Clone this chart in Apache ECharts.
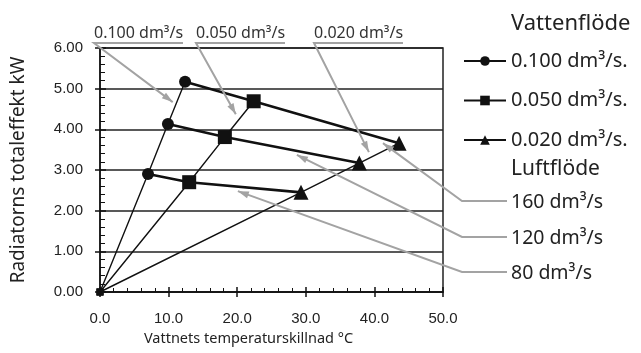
<!DOCTYPE html>
<html>
<head>
<meta charset="utf-8">
<script src="https://cdn.jsdelivr.net/npm/echarts@6/dist/echarts.min.js"></script>
<style>
  html, body { margin: 0; padding: 0; background: #fff; }
  #chart { width: 641px; height: 353px; }
</style>
</head>
<body>
<div id="chart"></div>
<script>
// water flow curves: temperature difference (x) and radiator power kW (y)
var flowNames = ['0.100 dm³/s.', '0.050 dm³/s.', '0.020 dm³/s.'];
var dT100 = [0, 7.0, 9.9, 12.4];
var kW100 = [0, 2.90, 4.13, 5.17];
var dT050 = [0, 13.0, 18.2, 22.4];
var kW050 = [0, 2.70, 3.81, 4.69];
var dT020 = [0, 29.3, 37.8, 43.6];
var kW020 = [0, 2.45, 3.17, 3.66];
var flowSymbols = ['circle', 'rect', 'triangle'];
var flowSymbolSizes = [12, 14, 15];

// air flow labels, index into the points above (1 = 80, 2 = 120, 3 = 160)
var airNames = ['80 dm³/s', '120 dm³/s', '160 dm³/s'];
var airIndex = [1, 2, 3];

var fontText = '"Noto Sans", sans-serif';
var fontNum = '"Liberation Sans", Arial, sans-serif';
var grey = '#a3a3a3';

function pts(xs, ys) {
    var list = [];
    for (var i = 0; i < xs.length; i++) {
        list.push([xs[i], ys[i]]);
    }
    return list;
}

var flowData = [pts(dT100, kW100), pts(dT050, kW050), pts(dT020, kW020)];

var series = [];
for (var a = 0; a < airIndex.length; a++) {
    var k = airIndex[a];
    series.push({
        name: airNames[a],
        type: 'line',
        data: [flowData[0][k], flowData[1][k], flowData[2][k]],
        showSymbol: false,
        lineStyle: { color: '#111', width: 2.6 },
        z: 2,
        silent: true
    });
}
for (var f = 0; f < flowNames.length; f++) {
    var d = flowData[f].map(function (p, i) {
        if (i === 0) {
            return { value: p, symbol: 'rect', symbolSize: 7 };
        }
        return p;
    });
    series.push({
        name: flowNames[f],
        type: 'line',
        data: d,
        symbol: flowSymbols[f],
        symbolSize: flowSymbolSizes[f],
        showAllSymbol: true,
        itemStyle: { color: '#111' },
        lineStyle: { color: '#111', width: 1.4 },
        z: 3
    });
}

var chart = echarts.init(document.getElementById('chart'));
var option = {
    animation: false,
    grid: {
        left: 100, right: 198, top: 48, bottom: 61,
        show: true, borderColor: '#222', borderWidth: 1.5
    },
    legend: {
        data: flowNames,
        orient: 'vertical',
        left: 458,
        top: 46,
        itemWidth: 42,
        itemHeight: 12,
        itemGap: 19.5,
        textStyle: { fontFamily: fontText, fontSize: 20, color: '#222' }
    },
    xAxis: [{
        type: 'value',
        min: 0, max: 50, interval: 10,
        name: 'Vattnets temperaturskillnad °C',
        nameLocation: 'middle',
        nameGap: 39,
        nameTextStyle: { fontFamily: fontText, fontSize: 14.5, color: '#222', padding: [0, 46, 0, 0] },
        axisLine: { lineStyle: { color: '#111', width: 1.5 } },
        axisTick: { show: true, inside: true, length: 5, lineStyle: { color: '#111', width: 1.5 } },
        minorTick: { show: true, splitNumber: 5, length: 4, lineStyle: { color: '#111' } },
        splitLine: { show: false },
        axisLabel: {
            margin: 19,
            fontFamily: fontNum, fontSize: 15, color: '#222',
            formatter: function (v) { return v.toFixed(1); }
        }
    }, {
        // outer half of the major ticks
        type: 'value', position: 'bottom',
        min: 0, max: 50, interval: 10,
        axisLine: { show: false },
        axisTick: { show: true, length: 5, lineStyle: { color: '#111', width: 1.5 } },
        axisLabel: { show: false },
        splitLine: { show: false }
    }],
    yAxis: [{
        type: 'value',
        min: 0, max: 6, interval: 1,
        name: 'Radiatorns totaleffekt kW',
        nameLocation: 'middle',
        nameGap: 72,
        nameTextStyle: { fontFamily: fontText, fontSize: 19, color: '#222' },
        axisLine: { lineStyle: { color: '#111', width: 1.5 } },
        axisTick: { show: true, length: 5, lineStyle: { color: '#111', width: 1.5 } },
        splitLine: { show: true, lineStyle: { color: '#222', width: 1.5 } },
        axisLabel: {
            margin: 17,
            fontFamily: fontNum, fontSize: 15, color: '#222',
            formatter: function (v) { return v.toFixed(2); }
        }
    }, {
        // inner ticks with the 0.2 kW minor ticks
        type: 'value', position: 'left',
        min: 0, max: 6, interval: 1,
        axisLine: { show: false },
        axisTick: { show: true, inside: true, length: 6, lineStyle: { color: '#111', width: 1.5 } },
        minorTick: { show: true, splitNumber: 5, length: 5, lineStyle: { color: '#111' } },
        axisLabel: { show: false },
        splitLine: { show: false }
    }],
    series: series
};
chart.setOption(option);

// annotation arrows: tip points in data space, label anchors in pixels
var topLabels = ['0.100 dm³/s', '0.050 dm³/s', '0.020 dm³/s'];
var topLabelX = [94, 196, 314];
var topTips = [[10.6, 4.67], [19.8, 4.37], [39.2, 3.44]];
var airTips = [[20.1, 2.48], [28.7, 3.37], [41.25, 3.66]];
var airLabelY = [272, 237, 201];

function arrowHead(tip, from) {
    var dx = tip[0] - from[0], dy = tip[1] - from[1];
    var len = Math.sqrt(dx * dx + dy * dy);
    var ux = dx / len, uy = dy / len;
    var bx = tip[0] - ux * 11, by = tip[1] - uy * 11;
    return {
        type: 'polygon',
        shape: { points: [tip, [bx - uy * 3.5, by + ux * 3.5], [bx + uy * 3.5, by - ux * 3.5]] },
        style: { fill: grey },
        z: 10
    };
}

var graphics = [];
for (var t = 0; t < topLabels.length; t++) {
    var x0 = topLabelX[t];
    var tip = chart.convertToPixel({ gridIndex: 0 }, topTips[t]);
    graphics.push({
        type: 'text', left: x0, top: 25, z: 10,
        style: { text: topLabels[t], font: '16px ' + fontText, fill: '#333' }
    });
    graphics.push({
        type: 'polyline', z: 10,
        shape: { points: [[x0 + 89, 43], [x0, 43], tip] },
        style: { stroke: grey, lineWidth: 2, fill: null }
    });
    graphics.push(arrowHead(tip, [x0, 43]));
}
for (var a2 = 0; a2 < airNames.length; a2++) {
    var ly = airLabelY[a2];
    var tip2 = chart.convertToPixel({ gridIndex: 0 }, airTips[a2]);
    graphics.push({
        type: 'polyline', z: 10,
        shape: { points: [[507, ly], [462, ly], tip2] },
        style: { stroke: grey, lineWidth: 2, fill: null }
    });
    graphics.push(arrowHead(tip2, [462, ly]));
    graphics.push({
        type: 'text', left: 511, top: ly - 9, z: 10,
        style: { text: airNames[a2], font: '19.5px ' + fontText, fill: '#222' }
    });
}
graphics.push({
    type: 'text', left: 511, top: 13, z: 10,
    style: { text: 'Vattenflöde', font: '22px ' + fontText, fill: '#222' }
});
graphics.push({
    type: 'text', left: 511, top: 159, z: 10,
    style: { text: 'Luftflöde', font: '21px ' + fontText, fill: '#222' }
});
chart.setOption({ graphic: graphics });
</script>
</body>
</html>
